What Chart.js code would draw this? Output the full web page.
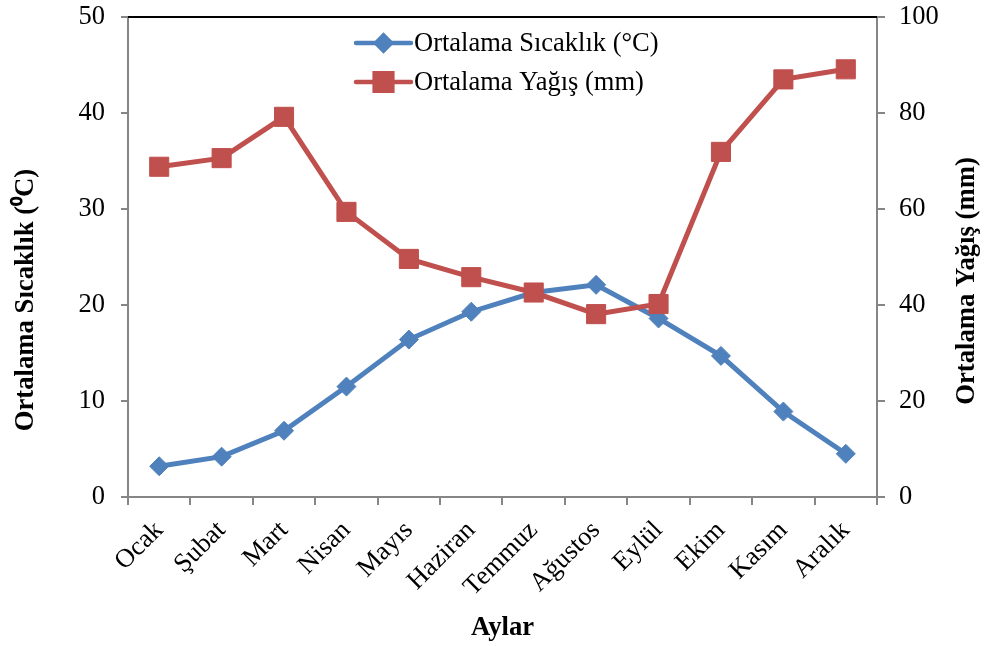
<!DOCTYPE html>
<html><head><meta charset="utf-8">
<script src="https://cdn.jsdelivr.net/npm/chart.js@4/dist/chart.umd.min.js"></script>
<style>html,body{margin:0;padding:0;background:#fff}#wrap{width:984px;height:646px;position:relative}</style>
</head><body><div id="wrap"><canvas id="c"></canvas></div>
<script>
const months = ["Ocak","Şubat","Mart","Nisan","Mayıs","Haziran","Temmuz","Ağustos","Eylül","Ekim","Kasım","Aralık"];
const temperature = [3.2,4.2,6.9,11.5,16.4,19.3,21.3,22.1,18.6,14.7,8.9,4.5];
const rainfall = [68.8,70.6,79.2,59.4,49.6,45.8,42.6,38.1,40.2,71.9,87.0,89.1];
const tempTicks = [0,10,20,30,40,50];
const rainTicks = [0,20,40,60,80,100];
const seriesNames = ["Ortalama Sıcaklık (°C)","Ortalama Yağış (mm)"];
const axisTitles = {x:"Aylar", y:"Ortalama Sıcaklık (⁰C)", y1:"Ortalama Yağış (mm)"};

const BLUE = "#4F81BD", RED = "#C0504D", AXIS = "#868686";
const FONT = "'Liberation Serif','Times New Roman',serif";

const frame = {
  id: 'frame',
  afterDraw(chart) {
    const {ctx, chartArea:a} = chart;
    ctx.save();
    ctx.strokeStyle = '#000'; ctx.lineWidth = 2;
    ctx.beginPath(); ctx.moveTo(a.left, a.top); ctx.lineTo(a.right, a.top); ctx.stroke();
    // legend
    const items = [
      {name: seriesNames[0], color: BLUE, style: 'rectRot', r: 7.5},
      {name: seriesNames[1], color: RED, style: 'rect', r: 12.5}
    ];
    const x0 = a.left + 228, y0 = a.top + 26, dy = 39;
    ctx.font = "26.5px " + FONT; ctx.textBaseline = 'middle'; ctx.textAlign = 'left';
    items.forEach((it, i) => {
      const y = y0 + i*dy;
      ctx.strokeStyle = it.color; ctx.lineWidth = 4.5; ctx.lineCap = 'round';
      ctx.beginPath(); ctx.moveTo(x0, y); ctx.lineTo(x0 + 55, y); ctx.stroke();
      ctx.fillStyle = it.color;
      Chart.helpers.drawPoint(ctx, {pointStyle: it.style, radius: it.r, borderWidth: 1}, x0 + 27.5, y);
      ctx.fillStyle = '#000';
      ctx.fillText(it.name, x0 + 58, y + 1);
    });
    // axis titles
    ctx.font = "bold 26.7px " + FONT; ctx.textAlign = 'center'; ctx.fillStyle = '#000';
    const midX = (a.left + a.right) / 2;
    ctx.fillText(axisTitles.x, midX, 628);
    ctx.save(); ctx.translate(26, 300); ctx.rotate(-Math.PI/2); ctx.fillText(axisTitles.y, 0, 0); ctx.restore();
    ctx.save(); ctx.translate(967, 281); ctx.rotate(-Math.PI/2); ctx.fillText(axisTitles.y1, 0, 0); ctx.restore();
    ctx.restore();
  }
};

const tickFont = {family: FONT, size: 26.5};

new Chart(document.getElementById('c'), {
  type: 'line',
  data: {
    labels: months,
    datasets: [
      {label: seriesNames[0], data: temperature, yAxisID: 'y', borderColor: BLUE, backgroundColor: BLUE,
       borderWidth: 5, pointStyle: 'rectRot', pointRadius: 9.5, pointBorderWidth: 1, pointBorderColor: BLUE, tension: 0, order: 1},
      {label: seriesNames[1], data: rainfall, yAxisID: 'y1', borderColor: RED, backgroundColor: RED,
       borderWidth: 5, pointStyle: 'rect', pointRadius: 13.5, pointBorderWidth: 1, pointBorderColor: RED, tension: 0, order: 0}
    ]
  },
  options: {
    responsive: true, maintainAspectRatio: false, animation: false,
    layout: {padding: {top: 17, left: 0, right: 0, bottom: 0}},
    plugins: {legend: {display: false}, tooltip: {enabled: false}},
    scales: {
      x: {
        offset: true,
        grid: {display: true, drawOnChartArea: false, drawTicks: true, tickLength: 8, color: AXIS, lineWidth: 2, offset: true},
        border: {display: true, color: AXIS, width: 2},
        ticks: {font: tickFont, color: '#000', maxRotation: 45, minRotation: 45, padding: 10, autoSkip: false},
        afterFit(s) { s.height = 149; s.paddingLeft = 0; s.paddingRight = 0; }
      },
      y: {
        position: 'left', min: 0, max: 50,
        afterBuildTicks(s) { s.ticks = tempTicks.map(v => ({value: v})); },
        grid: {display: true, drawOnChartArea: false, tickLength: 7, color: AXIS, lineWidth: 2},
        border: {display: true, color: AXIS, width: 2},
        ticks: {font: tickFont, color: '#000', padding: 16},
        afterFit(s) { s.width = 128; s.paddingTop = 0; s.paddingBottom = 0; }
      },
      y1: {
        position: 'right', min: 0, max: 100,
        afterBuildTicks(s) { s.ticks = rainTicks.map(v => ({value: v})); },
        grid: {display: true, drawOnChartArea: false, tickLength: 8, color: AXIS, lineWidth: 2},
        border: {display: true, color: AXIS, width: 2},
        ticks: {font: tickFont, color: '#000', padding: 14},
        afterFit(s) { s.width = 107; s.paddingTop = 0; s.paddingBottom = 0; }
      }
    }
  },
  plugins: [frame]
});
</script></body></html>
